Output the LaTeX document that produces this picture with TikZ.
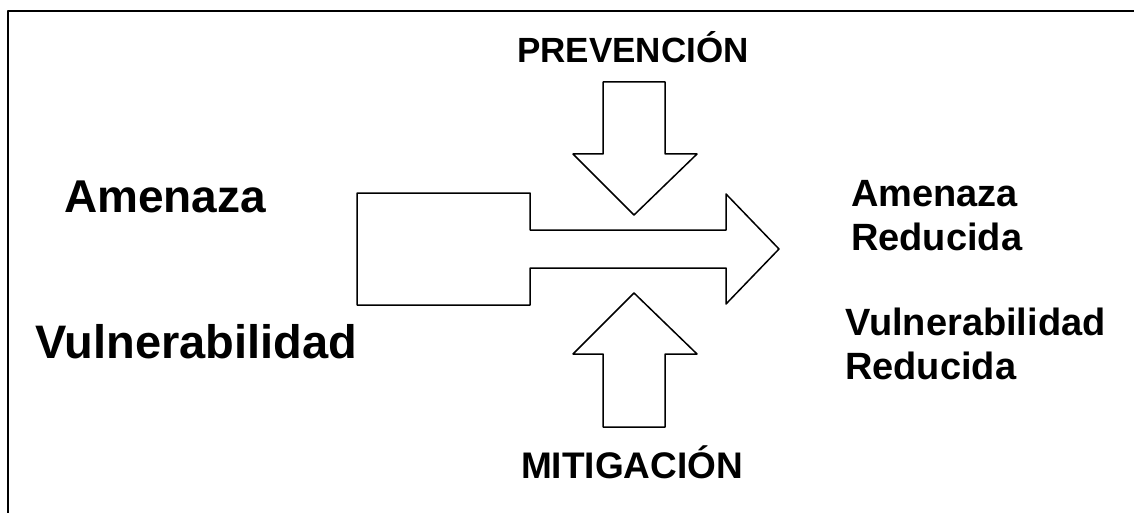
\documentclass[tikz,border=0pt]{standalone}
\usepackage{fontspec}
\setmainfont{Liberation Sans}
\usetikzlibrary{calc}

\tikzset{
  flecha/.style={line width=1.5pt},
  rotulo/.style={inner sep=0pt, font=\bfseries},
}

\begin{document}
\begin{tikzpicture}[line cap=round,line join=round,x=1pt,y=-1pt]
\useasboundingbox (0,0) rectangle (1134,513);

% marco
\draw [line width=2pt] (1134,11) -- (8,11) -- (8,513);

% flecha principal
\coordinate (R1) at (357,193);
\coordinate (R2) at (530,305);
\coordinate (T) at (779,249);
\draw [flecha] (R1) -- (530,193) -- (530,230) -- (726,230) -- (726,194) -- (T)
  -- (726,304) -- (726,268) -- (530,268) -- (R2) -- (357,305) -- cycle;

% flecha de prevencion
\coordinate (P) at (634,215);
\draw [flecha] (603,82) -- (665,82) -- (665,154) -- (697,154) -- (P)
  -- (573,154) -- (603,154) -- cycle;

% flecha de mitigacion
\coordinate (M) at (634,293);
\draw [flecha] (603,427) -- (665,427) -- (665,354) -- (697,354) -- (M)
  -- (573,354) -- (603,354) -- cycle;

\node [rotulo, anchor=base west, font=\bfseries\fontsize{46}{55}\selectfont] (amenaza) at (64,212) {Amenaza};
\node [rotulo, anchor=base west, font=\bfseries\fontsize{47}{56}\selectfont] (vulnerab) at (35,358) {Vulnerabilidad};

\node [rotulo, anchor=base, font=\bfseries\fontsize{35}{42}\selectfont] (prevencion) at (633,63) {PREVENCIÓN};
\node [rotulo, anchor=base, font=\bfseries\fontsize{37}{44}\selectfont] (mitigacion) at (632,478) {MITIGACIÓN};

\begin{scope}[every node/.style={rotulo, anchor=base west, font=\bfseries\fontsize{38}{45}\selectfont}]
\node (amenazaR) at (851,206) {Amenaza};
\node (reducidaA) at (851,250) {Reducida};
\node (vulnerabR) at (845,335) {Vulnerabilidad};
\node (reducidaV) at (845,379) {Reducida};
\end{scope}

\end{tikzpicture}
\end{document}
